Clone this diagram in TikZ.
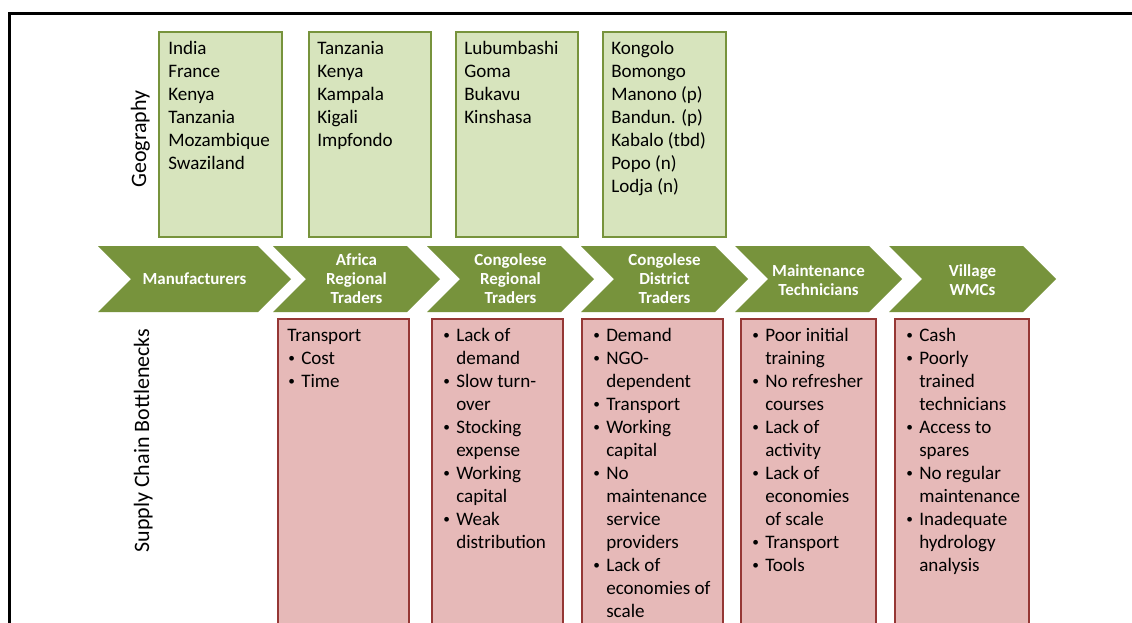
\documentclass[tikz,border=0pt]{standalone}
\usepackage{fontspec}
\setmainfont{Carlito}
\definecolor{chevgreen}{RGB}{119,147,60}
\definecolor{geofill}{RGB}{215,228,189}
\definecolor{geoline}{RGB}{119,147,60}
\definecolor{redfill}{RGB}{230,185,184}
\definecolor{redline}{RGB}{149,55,53}
\newcommand\fstrut{\rule{0pt}{12pt}}
\newcommand\smallbullet{\hspace*{0.8pt}\raisebox{1.4pt}{\fontsize{10}{10}\selectfont •}}
\newcommand\bitem[1]{\makebox[10.5pt][l]{\smallbullet}#1}
\newcommand\bcont[1]{\hspace*{10.5pt}#1}
\begin{document}
\begin{tikzpicture}[x=0.75pt,y=-0.75pt,
  chev/.style={fill=chevgreen},
  chevlabel/.style={text=white, font=\fontsize{12.7}{14.25}\selectfont\bfseries, align=center, inner sep=0pt},
  geobox/.style={draw=geoline, fill=geofill, line width=1.5pt},
  redbox/.style={draw=redline, fill=redfill, line width=1.5pt},
  boxtext/.style={anchor=north west, align=left, inner sep=0pt, font=\fontsize{14.3}{17.25}\selectfont},
  sidelabel/.style={rotate=90, anchor=base, inner sep=0pt, font=\fontsize{16.5}{19}\selectfont}]
\clip (0,0) rectangle (1132,622);
\fill[white] (0,0) rectangle (1132,622);
\draw[line width=2.25pt] (9.5,660) -- (9.5,13.5) -- (1150,13.5);

% side labels
\node[sidelabel] (geo) at (146,139) {Geography};
\node[sidelabel] (scb) at (149,440.5) {Supply Chain Bottlenecks};

% geography boxes
\draw[geobox] (159,32) rectangle (282,237);
\draw[geobox] (309,32) rectangle (431,237);
\draw[geobox] (456,32) rectangle (578,237);
\draw[geobox] (603,32) rectangle (726,237);
\node[boxtext] (g1) at (168,38) {\fstrut India\\France\\Kenya\\Tanzania\\Mozambique\\Swaziland};
\node[boxtext] (g2) at (317,38) {\fstrut Tanzania\\Kenya\\Kampala\\Kigali\\Impfondo};
\node[boxtext] (g3) at (464,38) {\fstrut Lubumbashi\\Goma\\Bukavu\\Kinshasa};
\node[boxtext] (g4) at (611,38) {\fstrut Kongolo\\Bomongo\\Manono (p)\\Bandun. (p)\\Kabalo (tbd)\\Popo (n)\\Lodja (n)};

% chevrons
\fill[chev] (98,246) -- (258,246) -- (291,279) -- (258,312) -- (98,312) -- (131,279) -- cycle;
\fill[chev] (273,246) -- (407,246) -- (440,279) -- (407,312) -- (273,312) -- (306,279) -- cycle;
\fill[chev] (427,246) -- (561,246) -- (594,279) -- (561,312) -- (427,312) -- (460,279) -- cycle;
\fill[chev] (581,246) -- (715,246) -- (748,279) -- (715,312) -- (581,312) -- (614,279) -- cycle;
\fill[chev] (735,246) -- (869,246) -- (902,279) -- (869,312) -- (735,312) -- (768,279) -- cycle;
\fill[chev] (889,246) -- (1023,246) -- (1056,279) -- (1023,312) -- (889,312) -- (922,279) -- cycle;
\node[chevlabel] (c1) at (194.5,279) {Manufacturers};
\node[chevlabel] (c2) at (356.5,279) {Africa\\Regional\\Traders};
\node[chevlabel] (c3) at (510.5,279) {Congolese\\Regional\\Traders};
\node[chevlabel] (c4) at (664.5,279) {Congolese\\District\\Traders};
\node[chevlabel] (c5) at (818.5,280) {Maintenance\\Technicians};
\node[chevlabel] (c6) at (972.5,280) {Village\\WMCs};

% bottleneck boxes
\draw[redbox] (278,319) rectangle (409,660);
\draw[redbox] (432,319) rectangle (563,660);
\draw[redbox] (582,319) rectangle (723,660);
\draw[redbox] (741,319) rectangle (876,660);
\draw[redbox] (895,319) rectangle (1029,660);
\node[boxtext] (r1) at (287,325) {\fstrut Transport\\\bitem{Cost}\\\bitem{Time}};
\node[boxtext] (r2) at (442,325) {\fstrut\bitem{Lack of}\\\bcont{demand}\\\bitem{Slow turn-}\\\bcont{over}\\\bitem{Stocking}\\\bcont{expense}\\\bitem{Working}\\\bcont{capital}\\\bitem{Weak}\\\bcont{distribution}};
\node[boxtext] (r3) at (592,325) {\fstrut\bitem{Demand}\\\bitem{NGO-}\\\bcont{dependent}\\\bitem{Transport}\\\bitem{Working}\\\bcont{capital}\\\bitem{No}\\\bcont{maintenance}\\\bcont{service}\\\bcont{providers}\\\bitem{Lack of}\\\bcont{economies of}\\\bcont{scale}};
\node[boxtext] (r4) at (751,325) {\fstrut\bitem{Poor initial}\\\bcont{training}\\\bitem{No refresher}\\\bcont{courses}\\\bitem{Lack of}\\\bcont{activity}\\\bitem{Lack of}\\\bcont{economies}\\\bcont{of scale}\\\bitem{Transport}\\\bitem{Tools}};
\node[boxtext] (r5) at (905,325) {\fstrut\bitem{Cash}\\\bitem{Poorly}\\\bcont{trained}\\\bcont{technicians}\\\bitem{Access to}\\\bcont{spares}\\\bitem{No regular}\\\bcont{maintenance}\\\bitem{Inadequate}\\\bcont{hydrology}\\\bcont{analysis}};
\end{tikzpicture}
\end{document}
